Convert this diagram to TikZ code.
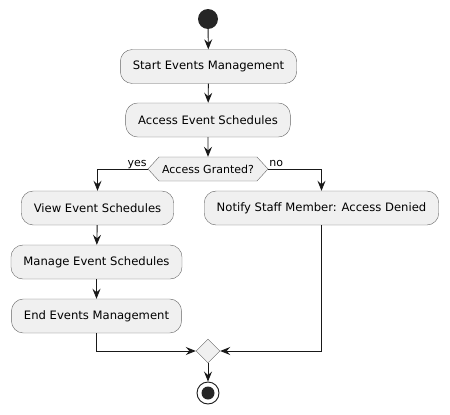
\documentclass[tikz,border=0pt]{standalone}
\usepackage{fontspec}
\setmainfont{DejaVu Sans}
\usetikzlibrary{arrows.meta,shapes.geometric,shapes.symbols}
\tikzset{
  act/.style={draw=black!60, fill=black!6, rounded corners=12pt, minimum height=34pt, inner xsep=12.5pt, font=\fontsize{11.6}{13}\selectfont},
  check/.style={signal, signal to=west and east, signal pointer angle=95, draw=black!60, fill=black!6, minimum width=120pt, minimum height=24pt, inner sep=1pt, font=\fontsize{11}{13}\selectfont},
  merger/.style={diamond, draw=black!60, fill=black!6, minimum width=24pt, minimum height=24pt, inner sep=0pt},
  lbl/.style={inner sep=0pt, font=\fontsize{11}{13}\selectfont},
  flow/.style={draw=black!90, line width=0.9pt, -{Stealth[length=10pt,width=8pt,inset=3.5pt]}},
}
\begin{document}
\begin{tikzpicture}[x=1pt,y=-1pt]
\useasboundingbox (0,0) rectangle (450,415);
% start and the first two steps
\node[circle, fill=black!85, minimum size=20pt, inner sep=0pt] (start) at (208,19) {};
\node[act] (s1) at (208.5,66.5) {Start Events Management};
\node[act] (s2) at (208,120) {Access Event Schedules};
\node[check] (chk) at (208,169) {Access Granted?};
\node[lbl, anchor=base east] (yes) at ([yshift=3pt,xshift=-1pt]chk.west) {yes};
\node[lbl, anchor=base west] (no) at ([yshift=3pt,xshift=1pt]chk.east) {no};
% branches
\node[act] (view) at (97.5,208) {View Event Schedules};
\node[act] (deny) at (321.5,208) {Notify Staff Member: Access Denied};
\node[act] (manage) at (96.5,262) {Manage Event Schedules};
\node[act] (endm) at (96.5,316) {End Events Management};
\node[merger] (merge) at (208,351) {};
\node[circle, draw=black!90, line width=0.9pt, fill=white, minimum size=22pt, inner sep=0pt] (stop) at (208,393) {};
\fill[black!85] (stop.center) circle (6.5);
\draw[flow] (start) -- (s1);
\draw[flow] (s1) -- (s2);
\draw[flow] (s2) -- (chk);
\draw[flow] (chk.west) -| (view);
\draw[flow] (chk.east) -| (deny);
\draw[flow] (view) -- (manage);
\draw[flow] (manage) -- (endm);
\draw[flow] (endm.south) |- (merge.west);
\draw[flow] (deny.south) |- (merge.east);
\draw[flow] (merge) -- (stop);
\end{tikzpicture}
\end{document}
